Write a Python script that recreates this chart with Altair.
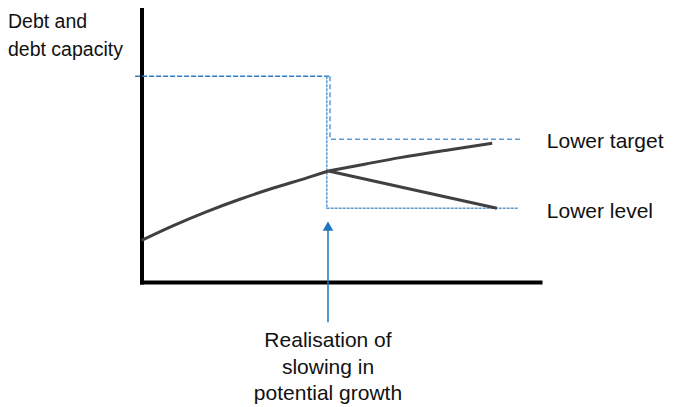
import altair as alt
import pandas as pd

# ---- schematic data (abstract units: x 0-100 along plot width, y 0-100 along plot height)
curve_x = [0, 8.0, 16.4, 24.7, 33.1, 41.5, 46.9]
curve_y = [15.2, 20.6, 25.7, 30.2, 34.3, 38.0, 40.5]

upper_x = [46.9, 56.0, 64.9, 77.4, 88.0]
upper_y = [40.5, 43.0, 45.4, 48.3, 50.6]

lower_x = [46.9, 89.2]
lower_y = [40.5, 26.9]

old_target_x = [-1.6, 47.3]
old_target_y = [75.1, 75.1]

step_x = [47.3, 47.3, 95.5]
step_y = [75.1, 52.1, 52.1]

drop_x = [46.5, 46.5, 94.5]
drop_y = [75.1, 26.9, 26.9]

arrow_x = [46.8, 46.8]
arrow_y = [-14.7, 19.0]
arrow_head = [46.8, 20.4]

labels_text = ["Lower target", "Lower level"]
labels_x = [101.7, 101.7]
labels_y = [51.0, 25.4]

bottom_text = ["Realisation of", "slowing in", "potential growth"]
bottom_x = [46.8, 46.8, 46.8]
bottom_y = [-21.7, -31.3, -41.0]

ytitle_text = ["Debt and", "debt capacity"]
ytitle_x = [-33.5, -33.5]
ytitle_y = [94.8, 84.6]

W, H = 398.5, 274

xs = alt.Scale(domain=[0, 100])
ys = alt.Scale(domain=[0, 100])


def pts(xv, yv):
    return pd.DataFrame({"x": xv, "y": yv, "o": list(range(len(xv)))})


def line_layer(df, color, width, dash=None, interp="linear"):
    kw = dict(color=color, strokeWidth=width, interpolate=interp, clip=False)
    if dash:
        kw["strokeDash"] = dash
    return alt.Chart(df).mark_line(**kw).encode(
        x=alt.X("x:Q", scale=xs, axis=alt.Axis(domainColor="black", domainWidth=4, domainCap="square",
                                                 ticks=False, labels=False, grid=False, title=None)),
        y=alt.Y("y:Q", scale=ys, axis=alt.Axis(domainColor="black", domainWidth=4, domainCap="square",
                                                 ticks=False, labels=False, grid=False, title=None)),
        order="o:Q",
    )


blue_dark = "#2a7cc7"
blue_light = "#5a9bd5"

layers = [
    line_layer(pts(old_target_x, old_target_y), blue_dark, 1.5, [5, 2]),
    line_layer(pts(step_x, step_y), blue_light, 1.5, [5, 3]),
    line_layer(pts(drop_x, drop_y), blue_light, 1.5, [3, 1]),
    line_layer(pts(curve_x, curve_y), "#404040", 3, interp="monotone"),
    line_layer(pts(upper_x, upper_y), "#404040", 3, interp="monotone"),
    line_layer(pts(lower_x, lower_y), "#404040", 3),
    line_layer(pts(arrow_x, arrow_y), "#1f74c0", 1.5),
    alt.Chart(pd.DataFrame({"x": [arrow_head[0]], "y": [arrow_head[1]]})).mark_point(
        shape="triangle-up", filled=True, size=110, color="#1f74c0", opacity=1, clip=False
    ).encode(x=alt.X("x:Q", scale=xs), y=alt.Y("y:Q", scale=ys)),
    alt.Chart(pd.DataFrame({"x": labels_x, "y": labels_y, "t": labels_text})).mark_text(
        align="left", baseline="middle", font="Liberation Sans", fontSize=21, color="#111111", clip=False
    ).encode(x=alt.X("x:Q", scale=xs), y=alt.Y("y:Q", scale=ys), text="t:N"),
    alt.Chart(pd.DataFrame({"x": bottom_x, "y": bottom_y, "t": bottom_text})).mark_text(
        align="center", baseline="middle", font="Liberation Sans", fontSize=21, color="#111111", clip=False
    ).encode(x=alt.X("x:Q", scale=xs), y=alt.Y("y:Q", scale=ys), text="t:N"),
    alt.Chart(pd.DataFrame({"x": ytitle_x, "y": ytitle_y, "t": ytitle_text})).mark_text(
        align="left", baseline="middle", font="Liberation Sans", fontSize=19.5, color="#111111", clip=False
    ).encode(x=alt.X("x:Q", scale=xs), y=alt.Y("y:Q", scale=ys), text="t:N"),
]

chart = alt.layer(*layers).properties(
    width=W,
    height=H,
    autosize=alt.AutoSizeParams(type="none"),
    padding={"left": 133.5, "top": 0, "right": 125, "bottom": 125},
    background="white",
).configure_view(stroke=None)

chart.save("out.html", embed_options={"renderer": "svg", "actions": False})
